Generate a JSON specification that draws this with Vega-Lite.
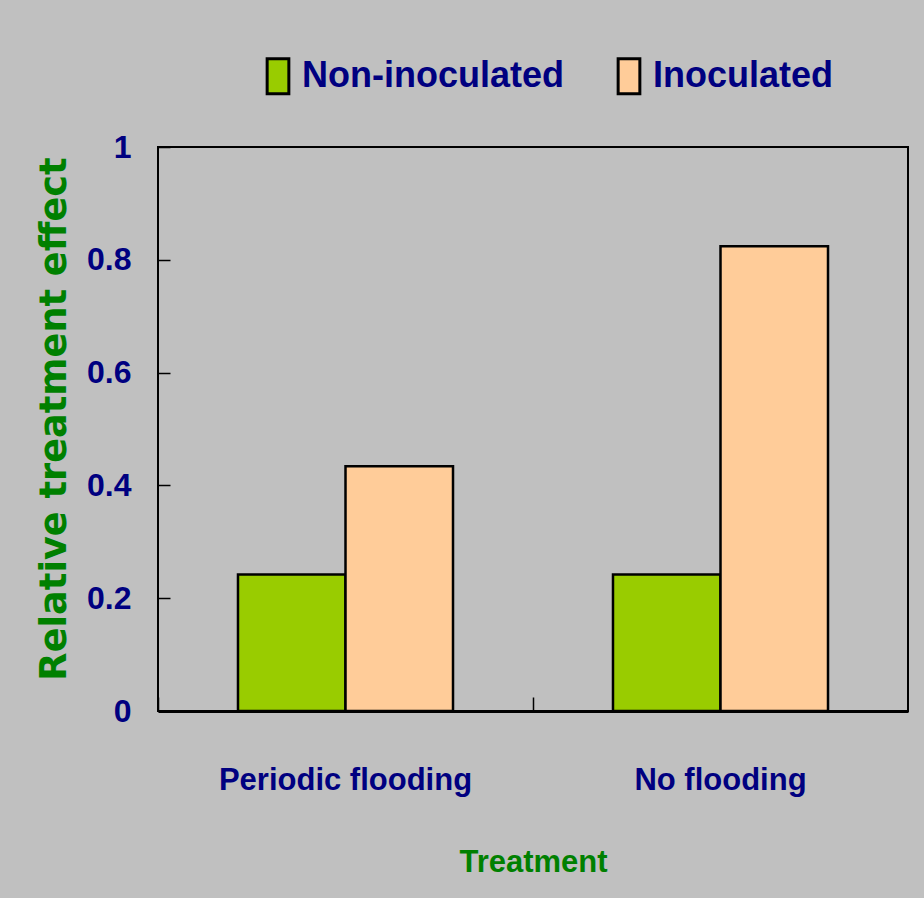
{
  "$schema": "https://vega.github.io/schema/vega-lite/v6.json",
  "autosize": {"type": "none"},
  "padding": {"left": 158, "top": 147, "right": 16, "bottom": 187},
  "width": 750,
  "height": 564,
  "background": "#C0C0C0",
  "data": {
    "values": [
      {"treatment": "Periodic flooding", "group": "Non-inoculated", "effect": 0.242},
      {"treatment": "Periodic flooding", "group": "Inoculated", "effect": 0.434},
      {"treatment": "No flooding", "group": "Non-inoculated", "effect": 0.242},
      {"treatment": "No flooding", "group": "Inoculated", "effect": 0.824}
    ]
  },
  "mark": {"type": "bar", "stroke": "black", "strokeWidth": 2.5, "opacity": 1},
  "encoding": {
    "x": {
      "field": "treatment",
      "type": "nominal",
      "sort": ["Periodic flooding", "No flooding"],
      "scale": {"paddingInner": 0, "paddingOuter": 0},
      "axis": {
        "title": "Treatment",
        "labelAngle": 0,
        "bandPosition": 0,
        "tickSize": -14,
        "tickColor": "black",
        "tickWidth": 1.5,
        "domainColor": "black",
        "domainWidth": 3,
        "labelBaseline": "alphabetic",
        "labelPadding": 92,
        "labelLimit": 400,
        "labelFont": "Liberation Sans, Arial, sans-serif",
        "labelFontWeight": "bold",
        "labelFontSize": 31,
        "labelColor": "#000080",
        "titleFont": "Liberation Sans, Arial, sans-serif",
        "titleFontWeight": "bold",
        "titleFontSize": 31,
        "titleColor": "#008000",
        "titleBaseline": "alphabetic",
        "titleY": 160
      }
    },
    "xOffset": {
      "field": "group",
      "type": "nominal",
      "sort": ["Non-inoculated", "Inoculated"],
      "scale": {"paddingInner": 0, "paddingOuter": 0.744}
    },
    "y": {
      "field": "effect",
      "type": "quantitative",
      "scale": {"domain": [0, 1], "nice": false, "zero": true},
      "axis": {
        "title": "Relative treatment effect",
        "values": [0, 0.2, 0.4, 0.6, 0.8, 1],
        "format": ".1~f",
        "grid": false,
        "domain": false,
        "tickSize": -12,
        "tickColor": "black",
        "tickWidth": 1.5,
        "labelPadding": 39,
        "labelFont": "Liberation Sans, Arial, sans-serif",
        "labelFontWeight": "bold",
        "labelFontSize": 32,
        "labelColor": "#000080",
        "titleFont": "DejaVu Sans, sans-serif",
        "titleFontWeight": "bold",
        "titleFontSize": 36.7,
        "titleColor": "#008000",
        "titleBaseline": "alphabetic",
        "titleX": -93,
        "titleY": 271.5
      }
    },
    "fill": {
      "field": "group",
      "type": "nominal",
      "sort": ["Non-inoculated", "Inoculated"],
      "scale": {"domain": ["Non-inoculated", "Inoculated"], "range": ["#99CC00", "#FFCC99"]},
      "legend": {
        "title": null,
        "orient": "none",
        "direction": "horizontal",
        "legendX": 101,
        "legendY": -90,
        "padding": 0,
        "symbolType": "M-0.62,-1H0.62V1H-0.62Z",
        "symbolSize": 1225,
        "symbolStrokeColor": "black",
        "symbolStrokeWidth": 3,
        "symbolOpacity": 1,
        "labelOffset": 5,
        "columnPadding": 46,
        "labelFont": "Liberation Sans, Arial, sans-serif",
        "labelFontWeight": "bold",
        "labelFontSize": 36,
        "labelColor": "#000080",
        "labelLimit": 400
      }
    }
  },
  "config": {
    "view": {"stroke": "black", "strokeWidth": 2, "fill": "#C0C0C0"}
  }
}
